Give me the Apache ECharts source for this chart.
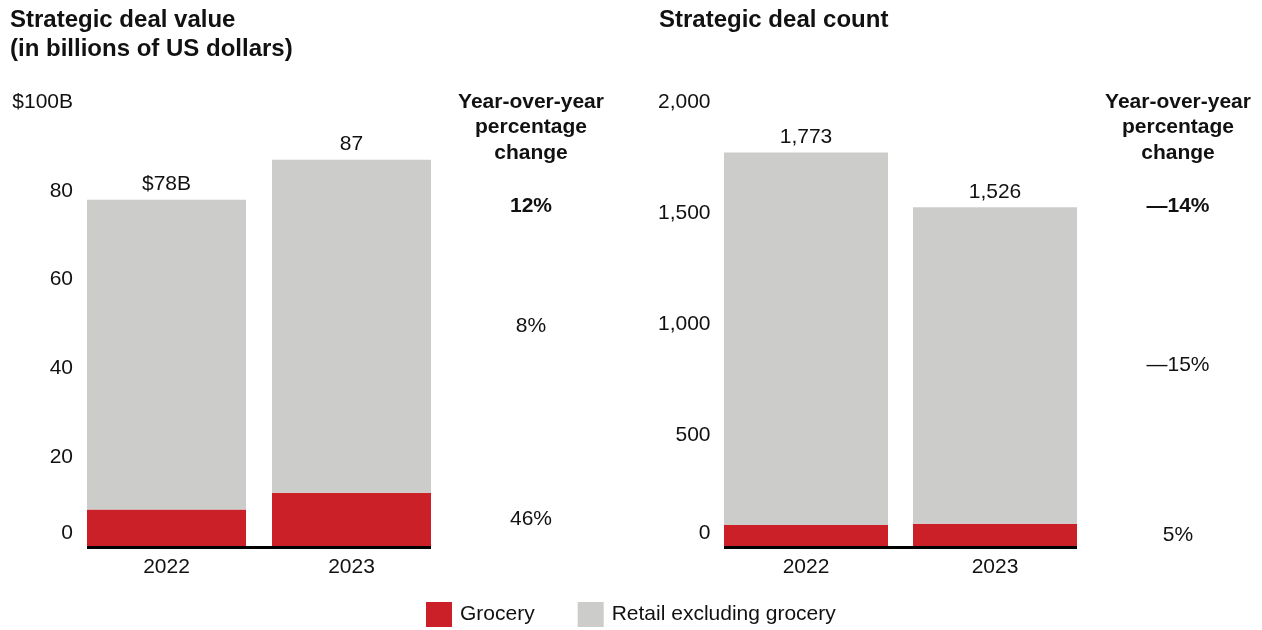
<!DOCTYPE html>
<html>
<head>
<meta charset="utf-8">
<style>
  html, body { margin: 0; padding: 0; background: #fff; }
  #chart { width: 1262px; height: 630px; }
</style>
<script src="https://cdn.jsdelivr.net/npm/echarts@6/dist/echarts.min.js"></script>
</head>
<body>
<div id="chart"></div>
<script>
// Strategic deals in retail, 2022 vs 2023
const years = ['2022', '2023'];

// Deal value, billions of US dollars
const valueGrocery = [8.2, 12.0];
const valueRetailExGrocery = [69.8, 75.0];
const valueTotalLabels = ['$78B', '87'];
const valueYoY = { total: '12%', retail: '8%', grocery: '46%' };

// Deal count
const countGrocery = [95, 100];
const countRetailExGrocery = [1678, 1426];
const countTotalLabels = ['1,773', '1,526'];
const countYoY = { total: '\u201414%', retail: '\u201415%', grocery: '5%' };

const RED = '#cc2029';
const GREY = '#cccccb';
const FONT = '"Liberation Sans", Arial, Helvetica, sans-serif';
const TXT = '#111';
const FS = 21;

const chart = echarts.init(document.getElementById('chart'), null, { renderer: 'canvas' });

const zeroRich = { z: { fontSize: FS, fontFamily: FONT, color: TXT, padding: [0, 0, 26, 0] } };

function yAxis(gridIndex, max, interval, fmt) {
  return {
    type: 'value', gridIndex, min: 0, max, interval,
    axisLine: { show: false }, axisTick: { show: false }, splitLine: { show: false },
    axisLabel: {
      margin: 1, fontSize: FS, fontFamily: FONT, color: TXT,
      formatter: v => (v === 0 ? '{z|0}' : fmt(v)),
      rich: zeroRich
    }
  };
}

function xAxis(gridIndex) {
  return {
    type: 'category', gridIndex, data: years,
    axisLine: { show: false }, axisTick: { show: false },
    axisLabel: { margin: 11, fontSize: FS, fontFamily: FONT, color: TXT }
  };
}

function totalLabel(labels) {
  return {
    show: true, position: 'top', distance: 5,
    fontSize: FS, fontFamily: FONT, color: TXT,
    formatter: p => labels[p.dataIndex]
  };
}

chart.setOption({
  animation: false,
  textStyle: { fontFamily: FONT },
  grid: [
    { left: 74, top: 102, width: 370, height: 444 },
    { left: 711.5, top: 102, width: 378, height: 444 }
  ],
  xAxis: [xAxis(0), xAxis(1)],
  yAxis: [
    yAxis(0, 100, 20, v => (v === 100 ? '$100B' : String(v))),
    yAxis(1, 2000, 500, v => v.toLocaleString('en-US'))
  ],
  legend: {
    left: 421, top: 597, icon: 'rect', itemWidth: 26, itemHeight: 25, itemGap: 43,
    textStyle: { fontSize: FS, fontFamily: FONT, color: TXT, padding: [0, 0, 0, 3] },
    data: ['Grocery', 'Retail excluding grocery']
  },
  series: [
    { name: 'Grocery', type: 'bar', stack: 'v', xAxisIndex: 0, yAxisIndex: 0,
      barWidth: 159, itemStyle: { color: RED }, data: valueGrocery },
    { name: 'Retail excluding grocery', type: 'bar', stack: 'v', xAxisIndex: 0, yAxisIndex: 0,
      barWidth: 159, itemStyle: { color: GREY }, data: valueRetailExGrocery,
      label: totalLabel(valueTotalLabels) },
    { name: 'Grocery', type: 'bar', stack: 'c', xAxisIndex: 1, yAxisIndex: 1,
      barWidth: 164, itemStyle: { color: RED }, data: countGrocery },
    { name: 'Retail excluding grocery', type: 'bar', stack: 'c', xAxisIndex: 1, yAxisIndex: 1,
      barWidth: 164, itemStyle: { color: GREY }, data: countRetailExGrocery,
      label: totalLabel(countTotalLabels) }
  ]
});

// Overlay: titles, baselines under the bars and the year-over-year column
function overlay() {
  const els = [];
  const titleStyle = { fontSize: 24, fontWeight: 'bold', fontFamily: FONT, fill: TXT, lineHeight: 29 };
  els.push({ type: 'text', left: 10, top: 6, style: Object.assign({ text: 'Strategic deal value\n(in billions of US dollars)' }, titleStyle) });
  els.push({ type: 'text', left: 659, top: 6, style: Object.assign({ text: 'Strategic deal count' }, titleStyle) });

  const panels = [
    { grid: 0, barW: 159, grocery: valueGrocery, retail: valueRetailExGrocery, yoy: valueYoY, colX: 531 },
    { grid: 1, barW: 164, grocery: countGrocery, retail: countRetailExGrocery, yoy: countYoY, colX: 1178 }
  ];
  panels.forEach(p => {
    const f = { xAxisIndex: p.grid, yAxisIndex: p.grid };
    const first = chart.convertToPixel(f, [0, 0]);
    const last = chart.convertToPixel(f, [1, 0]);
    // black baseline spanning the bars only
    els.push({
      type: 'line', silent: true,
      shape: { x1: first[0] - p.barW / 2, y1: first[1] + 1.5, x2: last[0] + p.barW / 2, y2: first[1] + 1.5 },
      style: { stroke: '#000', lineWidth: 3 }
    });
    // column header
    els.push({
      type: 'text', x: p.colX, y: 89,
      style: { text: 'Year-over-year\npercentage\nchange', fontSize: FS, fontWeight: 'bold', fontFamily: FONT,
        fill: TXT, lineHeight: 25.5, align: 'center', verticalAlign: 'top' }
    });
    els.push({
      type: 'text', x: p.colX, y: 206,
      style: { text: p.yoy.total, fontSize: FS, fontWeight: 'bold', fontFamily: FONT, fill: TXT,
        align: 'center', verticalAlign: 'middle' }
    });
    // segment changes sit at the middle of each 2023 segment
    const gMid = chart.convertToPixel(f, [1, p.grocery[1] / 2])[1];
    const rMid = chart.convertToPixel(f, [1, p.grocery[1] + p.retail[1] / 2])[1];
    els.push({ type: 'text', x: p.colX, y: rMid,
      style: { text: p.yoy.retail, fontSize: FS, fontFamily: FONT, fill: TXT, align: 'center', verticalAlign: 'middle' } });
    els.push({ type: 'text', x: p.colX, y: gMid,
      style: { text: p.yoy.grocery, fontSize: FS, fontFamily: FONT, fill: TXT, align: 'center', verticalAlign: 'middle' } });
  });
  chart.setOption({ graphic: els });
}
overlay();
</script>
</body>
</html>
